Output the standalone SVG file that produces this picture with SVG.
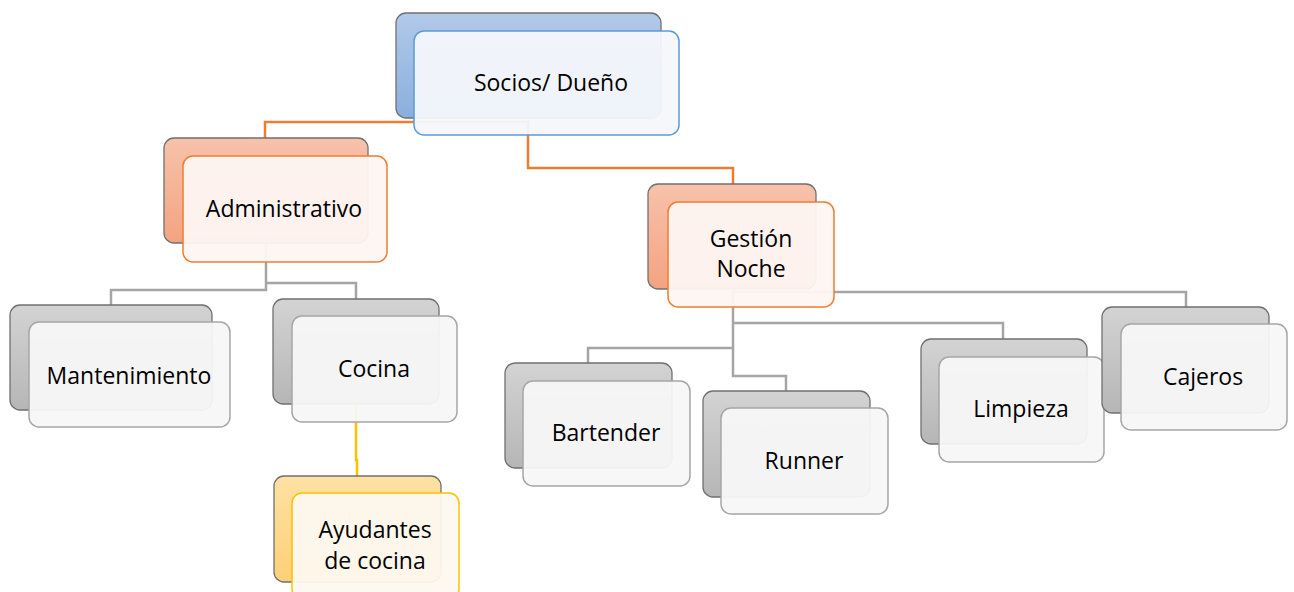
<svg xmlns="http://www.w3.org/2000/svg" width="1294" height="592" viewBox="0 0 1294 592">
<defs>
<linearGradient id="gBlue" x1="0" y1="0" x2="0" y2="1"><stop offset="0" stop-color="#b2c9e9"/><stop offset="1" stop-color="#8aafdd"/></linearGradient>
<linearGradient id="gOrange" x1="0" y1="0" x2="0" y2="1"><stop offset="0" stop-color="#f7c2ab"/><stop offset="1" stop-color="#f4a380"/></linearGradient>
<linearGradient id="gGrey" x1="0" y1="0" x2="0" y2="1"><stop offset="0" stop-color="#d3d3d3"/><stop offset="1" stop-color="#b6b6b6"/></linearGradient>
<linearGradient id="gYellow" x1="0" y1="0" x2="0" y2="1"><stop offset="0" stop-color="#fee1a4"/><stop offset="1" stop-color="#fdd077"/></linearGradient>
</defs>
<style>
.back{stroke:#707070;stroke-width:1.3}
.front{stroke-width:1.5;fill-opacity:0.95}
.fb{fill:#f4f7fb;stroke:#5b9bd5}
.fo{fill:#fdf5f2;stroke:#ed7d31}
.fg{fill:#f7f7f7;stroke:#a6a6a6}
.fy{fill:#fdf8ef;stroke:#ffc000}
.t{font-family:"Open Sans","Noto Sans",sans-serif;font-size:23px;fill:#000;text-anchor:middle}
.c{fill:none;stroke-width:2.5}
.co{stroke:#ed7d31}.cg{stroke:#a5a5a5}.cy{stroke:#ffc000}
</style>
<g id="connectors">
<path class="c co" d="M265,138 V122 H528 V168 H733 V184"/>
<path class="c cg" d="M266,243 V290 H111 V305 M266,283 H356 V299"/>
<path class="c cy" d="M356,404 V460 H357 V476"/>
<path class="c cg" d="M733,289 V376 H786 V391 M733,348 H588 V363 M733,323 H1003 V339 M733,292 H1186 V307"/>
</g>
<g id="n-socios">
<rect class="back" x="396" y="13" width="265" height="105" rx="10" fill="url(#gBlue)"/>
<rect class="front fb" x="414" y="31" width="265" height="104" rx="10"/>
<text class="t" x="551" y="91">Socios/ Dueño</text>
</g>
<g id="n-administrativo">
<rect class="back" x="164" y="138" width="204" height="105" rx="10" fill="url(#gOrange)"/>
<rect class="front fo" x="183" y="156" width="204" height="106" rx="10"/>
<text class="t" x="284" y="217">Administrativo</text>
</g>
<g id="n-gestion">
<rect class="back" x="648" y="184" width="168" height="105" rx="10" fill="url(#gOrange)"/>
<rect class="front fo" x="668" y="202" width="166" height="105" rx="10"/>
<text class="t" x="751" y="247">Gestión</text>
<text class="t" x="751" y="277">Noche</text>
</g>
<g id="n-mantenimiento">
<rect class="back" x="10" y="305" width="202" height="105" rx="10" fill="url(#gGrey)"/>
<rect class="front fg" x="29" y="322" width="201" height="105" rx="10"/>
<text class="t" x="129" y="384">Mantenimiento</text>
</g>
<g id="n-cocina">
<rect class="back" x="273" y="299" width="166" height="105" rx="10" fill="url(#gGrey)"/>
<rect class="front fg" x="292" y="316" width="165" height="106" rx="10"/>
<text class="t" x="374" y="377">Cocina</text>
</g>
<g id="n-ayudantes">
<rect class="back" x="274" y="476" width="167" height="106" rx="10" fill="url(#gYellow)"/>
<rect class="front fy" x="292" y="493" width="167" height="106" rx="10"/>
<text class="t" x="375" y="538">Ayudantes</text>
<text class="t" x="375" y="569">de cocina</text>
</g>
<g id="n-bartender">
<rect class="back" x="505" y="363" width="167" height="105" rx="10" fill="url(#gGrey)"/>
<rect class="front fg" x="523" y="381" width="167" height="105" rx="10"/>
<text class="t" x="606" y="441">Bartender</text>
</g>
<g id="n-runner">
<rect class="back" x="703" y="391" width="167" height="106" rx="10" fill="url(#gGrey)"/>
<rect class="front fg" x="721" y="408" width="167" height="106" rx="10"/>
<text class="t" x="804" y="469">Runner</text>
</g>
<g id="n-limpieza">
<rect class="back" x="921" y="339" width="166" height="105" rx="10" fill="url(#gGrey)"/>
<rect class="front fg" x="939" y="357" width="165" height="105" rx="10"/>
<text class="t" x="1021" y="417">Limpieza</text>
</g>
<g id="n-cajeros">
<rect class="back" x="1102" y="307" width="167" height="106" rx="10" fill="url(#gGrey)"/>
<rect class="front fg" x="1121" y="324" width="166" height="106" rx="10"/>
<text class="t" x="1203" y="385">Cajeros</text>
</g>
</svg>
